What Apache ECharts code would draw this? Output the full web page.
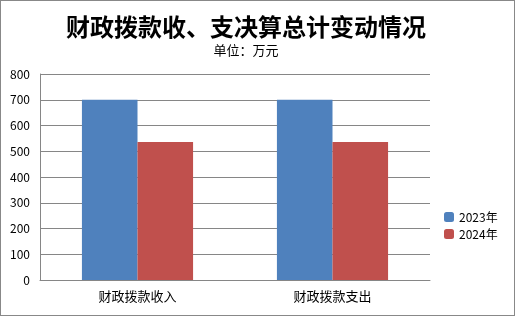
<!DOCTYPE html>
<html><head><meta charset="utf-8">
<script src="https://cdn.jsdelivr.net/npm/echarts@6/dist/echarts.min.js"></script>
<style>html,body{margin:0;padding:0;background:#fff}#c{width:515px;height:316px;box-sizing:border-box;border:1px solid #888}</style>
</head><body><div id="c"></div>
<script>
const categories = ['财政拨款收入', '财政拨款支出'];
const seriesNames = ['2023年', '2024年'];
const values2023 = [700, 700];
const values2024 = [536, 536];
const chart = echarts.init(document.getElementById('c'));
const font = '"Noto Sans CJK SC", sans-serif';
chart.setOption({
  animation: false,
  title: {
    text: '财政拨款收、支决算总计变动情况',
    subtext: '单位：万元',
    left: 240, textAlign: 'center', top: 9,
    textStyle: {fontFamily: font, fontSize: 24, fontWeight: 'bold', color: '#000'},
    subtextStyle: {fontFamily: font, fontSize: 13, color: '#000'},
    itemGap: 5
  },
  legend: {
    orient: 'vertical', left: 438, top: 205,
    itemWidth: 10, itemHeight: 10, itemGap: 5,
    textStyle: {fontFamily: font, fontSize: 12, color: '#000'},
    data: seriesNames
  },
  grid: {left: 39, right: 84, top: 73, bottom: 35, containLabel: false},
  xAxis: {
    type: 'category', data: categories,
    axisLine: {lineStyle: {color: '#868686'}},
    axisTick: {show: false},
    axisLabel: {fontFamily: font, fontSize: 13, color: '#000', margin: 10}
  },
  yAxis: {
    type: 'value', min: 0, max: 800, interval: 100,
    axisLine: {show: true, lineStyle: {color: '#868686'}},
    axisTick: {show: false},
    splitLine: {lineStyle: {color: '#868686'}},
    axisLabel: {fontFamily: font, fontSize: 12, color: '#000', margin: 10}
  },
  series: [
    {name: seriesNames[0], type: 'bar', data: values2023, barGap: '0%', barCategoryGap: '43%', itemStyle: {color: '#4F81BD'}},
    {name: seriesNames[1], type: 'bar', data: values2024, itemStyle: {color: '#C0504D'}}
  ]
});
</script></body></html>
